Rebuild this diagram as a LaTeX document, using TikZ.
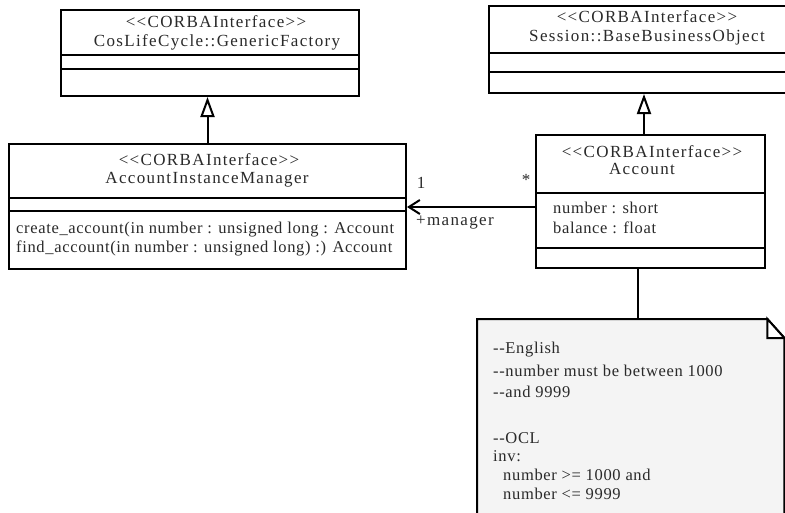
\documentclass[tikz,border=0pt]{standalone}
\usepackage{fontspec}
\setmainfont{Liberation Serif}
\newfontfamily\hdfont[LetterSpace=8]{Liberation Serif}
\newfontfamily\bdfont[LetterSpace=4]{Liberation Serif}
\usetikzlibrary{arrows.meta,calc}
\definecolor{ink}{HTML}{2A2A2A}
\definecolor{notefill}{HTML}{F4F4F4}
\begin{document}
\begin{tikzpicture}[x=1pt,y=-1pt,
  umlbox/.style={draw, line width=2pt, inner sep=0pt, anchor=north west, fill=white},
  sep/.style={line width=2pt},
  hd/.style={inner sep=0pt, text=ink, font=\hdfont\fontsize{17}{20}\selectfont},
  bd/.style={inner sep=0pt, text=ink, anchor=west, font=\bdfont\fontsize{16.5}{19}\selectfont},
  gen/.style={line width=2pt, -{Triangle[open, length=20pt, width=14pt, line width=2pt]}},
  assoc/.style={line width=2pt, -{Straight Barb[length=11pt, width=14pt, line width=2pt]}},
  link/.style={line width=2pt}]
\useasboundingbox (0,0) rectangle (785,512);

% CosLifeCycle::GenericFactory
\node[umlbox, minimum width=298pt, minimum height=86pt] (gf) at (60,9) {};
\draw[sep] (60,55) -- (358,55);
\draw[sep] (60,69) -- (358,69);
\node[hd] (gfs) at (216,22) {<{}<CORBAInterface>{}>};
\node[hd] (gfn) at (217,42) {CosLifeCycle::GenericFactory};

% Session::BaseBusinessObject
\node[umlbox, minimum width=310pt, minimum height=87pt] (bbo) at (488,5) {};
\draw[sep] (488,53) -- (798,53);
\draw[sep] (488,72) -- (798,72);
\node[hd] (bbos) at (647,17) {<{}<CORBAInterface>{}>};
\node[hd] (bbon) at (647,37) {Session::BaseBusinessObject};

% AccountInstanceManager
\node[umlbox, minimum width=397pt, minimum height=125pt] (aim) at (8,143) {};
\draw[sep] (8,198) -- (405,198);
\draw[sep] (8,211) -- (405,211);
\node[hd] (aims) at (209,160) {<{}<CORBAInterface>{}>};
\node[hd] (aimn) at (207,180) {AccountInstanceManager};
\node[bd] (m1) at (16,230) {create\_account(in number : unsigned long : Account};
\node[bd] (m2) at (16,248) {find\_account(in number : unsigned long) :) Account};

% Account
\node[umlbox, minimum width=229pt, minimum height=133pt] (acc) at (535,134) {};
\draw[sep] (535,193) -- (764,193);
\draw[sep] (535,248) -- (764,248);
\node[hd] (accs) at (652,152) {<{}<CORBAInterface>{}>};
\node[hd] (accn) at (642,169) {Account};
\node[bd] (a1) at (553,208) {number : short};
\node[bd] (a2) at (553,228) {balance : float};

% generalizations
\draw[gen] (aim.north) -- (aim.north |- gf.south);
\draw[gen] (bbo.south |- acc.north) -- (bbo.south);

% association Account -> AccountInstanceManager
\coordinate (asc) at ($(acc.north west)+(0,73)$);
\draw[assoc] (asc) -- (asc -| aim.east);
\node[hd] (mult1) at (421,183) {1};
\node[hd] (multn) at (526,180) {*};
\node[hd] (role) at (455,223) {+manager};

% constraint note
\node[inner sep=0pt, minimum width=307pt, minimum height=200pt, anchor=north west] (note) at (477,319) {};
\draw[line width=2pt, fill=notefill]
  (note.south west) -- (note.north west) -- ($(note.north east)+(-17,0)$)
  -- ($(note.north east)+(0,19)$) -- (note.south east);
\draw[line width=2pt, fill=white]
  ($(note.north east)+(-17,0)$) -- ($(note.north east)+(-17,19)$) -- ($(note.north east)+(0,19)$) -- cycle;
\coordinate (lk) at (638,0);
\draw[link] (acc.south -| lk) -- (note.north -| lk);

\node[bd] (n1) at (493,350) {-{}-English};
\node[bd] (n2) at (493,371) {-{}-number must be between 1000};
\node[bd] (n3) at (493,392) {-{}-and 9999};
\node[bd] (n4) at (493,438) {-{}-OCL};
\node[bd] (n5) at (493,456) {inv:};
\node[bd] (n6) at (503,475) {number >= 1000 and};
\node[bd] (n7) at (503,494) {number <= 9999};
\end{tikzpicture}
\end{document}
